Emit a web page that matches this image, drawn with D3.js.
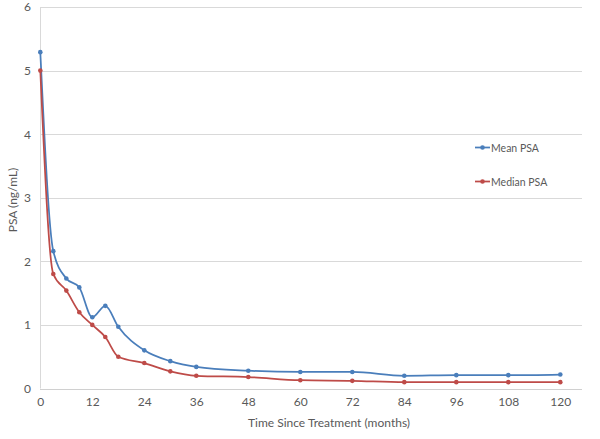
<!DOCTYPE html>
<html>
<head>
<meta charset="utf-8">
<script src="https://cdn.jsdelivr.net/npm/d3@7"></script>
<style>
  html, body { margin: 0; padding: 0; background: #fff; }
  svg { display: block; }
  text { font-family: Lato, "Open Sans", sans-serif; fill: #595959; }
</style>
</head>
<body>
<svg id="chart" width="600" height="439"></svg>
<script>
const months = [0, 3, 6, 9, 12, 15, 18, 24, 30, 36, 48, 60, 72, 84, 96, 108, 120];
const meanPSA = [5.29, 2.16, 1.73, 1.59, 1.12, 1.30, 0.97, 0.60, 0.43, 0.34, 0.28, 0.26, 0.26, 0.20, 0.21, 0.21, 0.22];
const medianPSA = [5.00, 1.80, 1.54, 1.20, 1.00, 0.81, 0.50, 0.40, 0.27, 0.20, 0.18, 0.13, 0.12, 0.10, 0.10, 0.10, 0.10];
const xTicks = [0, 12, 24, 36, 48, 60, 72, 84, 96, 108, 120];
const yTicks = [0, 1, 2, 3, 4, 5, 6];
const seriesNames = ["Mean PSA", "Median PSA"];
const seriesColors = ["#4a7ebb", "#be4b48"];

const svg = d3.select("#chart");
const plotLeft = 40, plotRight = 582, plotTop = 7, plotBottom = 388.5;

const x = d3.scaleLinear().domain([0, 120]).range([40.3, 560.3]);
const y = d3.scaleLinear().domain([0, 6]).range([plotBottom, plotTop]);

// gridlines
svg.append("g").selectAll("line").data(yTicks.filter(d => d > 0)).join("line")
  .attr("x1", plotLeft).attr("x2", plotRight)
  .attr("y1", d => Math.round(y(d)) + 0.5).attr("y2", d => Math.round(y(d)) + 0.5)
  .attr("stroke", "#d9d9d9").attr("stroke-width", 1);

// axes lines
svg.append("line").attr("x1", plotLeft).attr("x2", plotRight)
  .attr("y1", Math.round(y(0)) + 0.5).attr("y2", Math.round(y(0)) + 0.5)
  .attr("stroke", "#d0d0d0");
svg.append("line").attr("x1", plotLeft + 0.5).attr("x2", plotLeft + 0.5)
  .attr("y1", plotTop).attr("y2", plotBottom)
  .attr("stroke", "#d9d9d9");

// y tick labels
const yAxis = d3.axisLeft(y).tickValues(yTicks).tickSize(0).tickPadding(0).tickFormat(d3.format("d"));
const gy = svg.append("g").attr("transform", `translate(31,0)`).call(yAxis);
gy.select(".domain").remove();
gy.selectAll("text").attr("font-size", 12).style("fill", "#595959")
  .style("font-family", "Lato, 'Open Sans', sans-serif");

// x tick labels
const xAxis = d3.axisBottom(x).tickValues(xTicks).tickSize(0).tickPadding(0).tickFormat(d3.format("d"));
const gx = svg.append("g").attr("transform", `translate(0,397)`).call(xAxis);
gx.select(".domain").remove();
gx.selectAll("text").attr("font-size", 12).style("fill", "#595959")
  .style("font-family", "Lato, 'Open Sans', sans-serif");

// axis titles
svg.append("text").attr("x", 329).attr("y", 427).attr("text-anchor", "middle")
  .attr("font-size", 12).text("Time Since Treatment (months)");
svg.append("text").attr("transform", "translate(17,200) rotate(-90)").attr("text-anchor", "middle")
  .attr("font-size", 12).text("PSA (ng/mL)");

// series
const allSeries = [meanPSA, medianPSA];
const line = d3.line().x(d => x(d[0])).y(d => y(d[1])).curve(d3.curveMonotoneX);

allSeries.forEach((vals, i) => {
  const pts = months.map((m, j) => [m, vals[j]]);
  svg.append("path").datum(pts).attr("d", line)
    .attr("fill", "none").attr("stroke", seriesColors[i]).attr("stroke-width", 1.75);
  svg.append("g").selectAll("circle").data(pts).join("circle")
    .attr("cx", d => x(d[0])).attr("cy", d => y(d[1])).attr("r", 2.3)
    .attr("fill", seriesColors[i]);
});

// legend
const legY = [147.5, 181.5];
seriesNames.forEach((name, i) => {
  const g = svg.append("g");
  g.append("line").attr("x1", 475).attr("x2", 490).attr("y1", legY[i]).attr("y2", legY[i])
    .attr("stroke", seriesColors[i]).attr("stroke-width", 1.75);
  g.append("circle").attr("cx", 482.5).attr("cy", legY[i]).attr("r", 2.3).attr("fill", seriesColors[i]);
  g.append("text").attr("x", 491).attr("y", legY[i] + 4).attr("font-size", 10.5).text(name);
});
</script>
</body>
</html>
